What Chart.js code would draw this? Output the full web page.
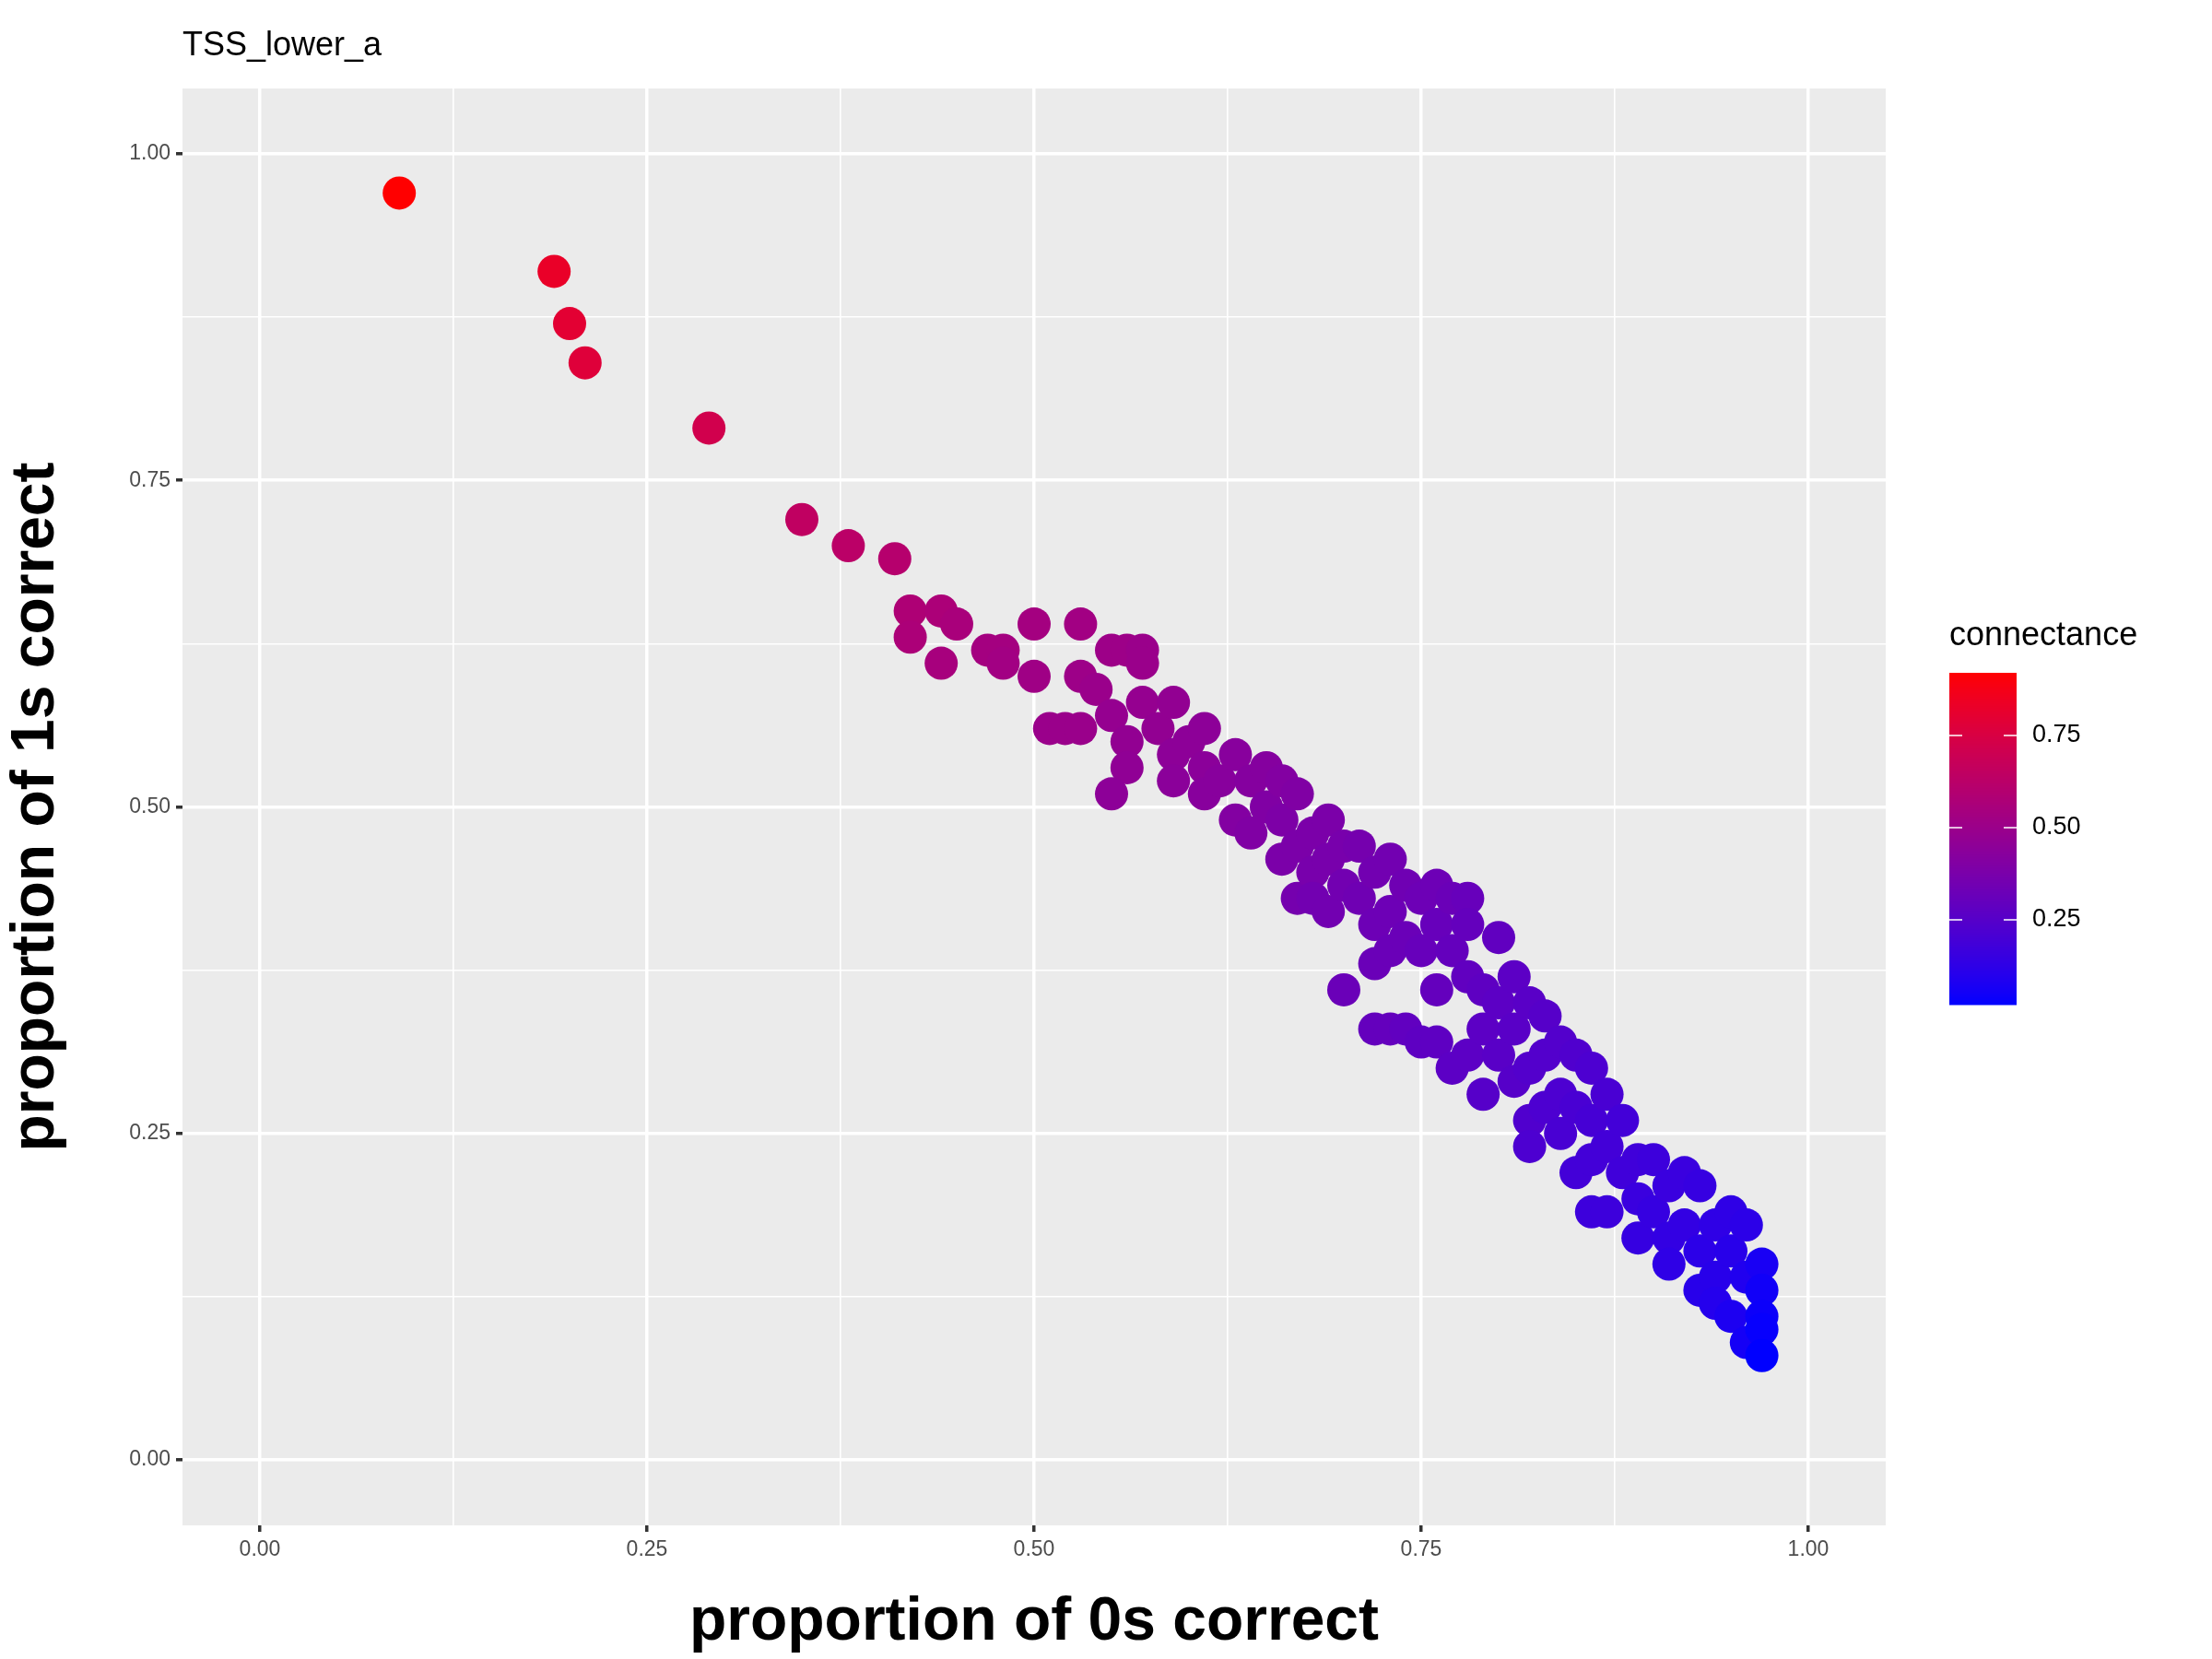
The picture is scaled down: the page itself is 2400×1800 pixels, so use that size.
<!DOCTYPE html>
<html>
<head>
<meta charset="utf-8">
<script src="https://cdn.jsdelivr.net/npm/chart.js@4.4.1/dist/chart.umd.min.js"></script>
<style>
  html, body { margin: 0; padding: 0; background: #fff; }
  #wrap { width: 2400px; height: 1800px; }
</style>
</head>
<body>
<div id="wrap"><canvas id="c" width="2400" height="1800"></canvas></div>
<script>
// proportion of 0s correct
var zerosCorrect = [0.09,0.19,0.20,0.21,0.29,0.35,0.38,0.41,0.42,0.42,0.44,0.45,0.44,0.47,0.48,0.48,0.50,0.50,0.51,0.52,0.53,0.53,0.53,0.54,0.55,0.56,0.57,0.57,0.55,0.56,0.56,0.55,0.57,0.58,0.59,0.59,0.59,0.60,0.61,0.61,0.61,0.62,0.63,0.63,0.64,0.64,0.65,0.65,0.66,0.66,0.66,0.67,0.67,0.67,0.68,0.68,0.68,0.69,0.69,0.69,0.70,0.70,0.70,0.71,0.71,0.72,0.72,0.72,0.72,0.73,0.73,0.73,0.73,0.74,0.74,0.74,0.75,0.75,0.75,0.76,0.76,0.76,0.76,0.77,0.77,0.77,0.78,0.78,0.78,0.78,0.79,0.79,0.79,0.80,0.80,0.80,0.81,0.81,0.81,0.82,0.82,0.82,0.82,0.83,0.83,0.83,0.84,0.84,0.84,0.85,0.85,0.85,0.86,0.86,0.86,0.86,0.87,0.87,0.87,0.88,0.88,0.89,0.89,0.89,0.90,0.90,0.91,0.91,0.91,0.92,0.92,0.93,0.93,0.93,0.94,0.94,0.94,0.95,0.95,0.95,0.96,0.96,0.96,0.97,0.97,0.97,0.97,0.97];
// proportion of 1s correct
var onesCorrect = [0.97,0.91,0.87,0.84,0.79,0.72,0.70,0.69,0.65,0.63,0.65,0.64,0.61,0.62,0.62,0.61,0.64,0.60,0.56,0.56,0.56,0.64,0.60,0.59,0.62,0.62,0.62,0.61,0.57,0.55,0.53,0.51,0.58,0.56,0.58,0.54,0.52,0.55,0.56,0.53,0.51,0.52,0.54,0.49,0.52,0.48,0.53,0.50,0.52,0.49,0.46,0.51,0.47,0.43,0.48,0.45,0.43,0.49,0.46,0.42,0.47,0.44,0.36,0.47,0.43,0.45,0.41,0.38,0.33,0.46,0.42,0.39,0.33,0.44,0.40,0.33,0.43,0.39,0.32,0.44,0.41,0.36,0.32,0.43,0.39,0.30,0.43,0.41,0.37,0.31,0.36,0.33,0.28,0.40,0.35,0.31,0.37,0.33,0.29,0.35,0.30,0.26,0.24,0.34,0.31,0.27,0.32,0.28,0.25,0.31,0.27,0.22,0.30,0.26,0.23,0.19,0.28,0.24,0.19,0.26,0.22,0.23,0.20,0.17,0.23,0.19,0.21,0.17,0.15,0.22,0.18,0.21,0.16,0.13,0.18,0.14,0.12,0.19,0.16,0.11,0.18,0.14,0.09,0.15,0.13,0.11,0.10,0.08];
// connectance (colour)
var connectance = [0.92,0.83,0.80,0.78,0.72,0.65,0.63,0.61,0.58,0.57,0.57,0.56,0.55,0.54,0.54,0.53,0.54,0.52,0.50,0.50,0.50,0.53,0.51,0.50,0.51,0.51,0.50,0.50,0.48,0.47,0.46,0.45,0.48,0.47,0.47,0.45,0.44,0.45,0.45,0.44,0.43,0.43,0.43,0.41,0.42,0.40,0.42,0.40,0.41,0.39,0.38,0.40,0.38,0.36,0.38,0.37,0.35,0.38,0.37,0.35,0.37,0.35,0.32,0.36,0.34,0.35,0.33,0.32,0.30,0.35,0.33,0.32,0.30,0.34,0.32,0.29,0.33,0.31,0.28,0.33,0.31,0.30,0.28,0.32,0.30,0.27,0.31,0.30,0.29,0.27,0.28,0.27,0.25,0.29,0.27,0.26,0.27,0.26,0.25,0.26,0.24,0.23,0.22,0.25,0.24,0.22,0.24,0.22,0.21,0.23,0.21,0.19,0.22,0.20,0.19,0.17,0.21,0.19,0.17,0.19,0.18,0.18,0.16,0.15,0.17,0.15,0.16,0.14,0.13,0.16,0.14,0.15,0.12,0.11,0.13,0.11,0.10,0.13,0.11,0.08,0.12,0.09,0.06,0.07,0.05,0.04,0.03,0.02];

var majorTicks = [0, 0.25, 0.5, 0.75, 1];
var legendTicks = [0.25, 0.5, 0.75];
var cMin = 0.02, cMax = 0.92;

function colourFor(v){
    var t = (v - cMin) / (cMax - cMin);
    t = Math.max(0, Math.min(1, t));
    var r = Math.round(255 * Math.pow(t, 0.8));
    var b = Math.round(255 * Math.pow(1 - t, 0.8));
    return 'rgb(' + r + ',0,' + b + ')';
}

var points = zerosCorrect.map(function(x, i){ return {x: x, y: onesCorrect[i]}; });
var colours = connectance.map(colourFor);

function isMajor(v){
    return majorTicks.some(function(m){ return Math.abs(m - v) < 1e-6; });
}

function axisTicks(axis){
    axis.ticks = [];
    for (var k = 0; k <= 8; k++) axis.ticks.push({value: k * 0.125});
}

var gridOpts = {
    color: function(ctx){ return '#ffffff'; },
    lineWidth: function(ctx){ return ctx.tick && isMajor(ctx.tick.value) ? 3.5 : 1.6; },
    tickColor: function(ctx){ return ctx.tick && isMajor(ctx.tick.value) ? '#333333' : 'rgba(0,0,0,0)'; },
    tickLength: 7,
    drawTicks: true
};

var tickFont = {family: 'Liberation Sans, Arial, sans-serif', size: 23};

var panelPlugin = {
    id: 'panel',
    beforeDraw: function(chart){
        var a = chart.chartArea, ctx = chart.ctx;
        ctx.save();
        ctx.fillStyle = '#ebebeb';
        ctx.fillRect(a.left, a.top, a.right - a.left, a.bottom - a.top);
        ctx.restore();
    },
    afterDraw: function(chart){
        var ctx = chart.ctx;
        ctx.save();
        // title
        ctx.fillStyle = '#000';
        ctx.font = '36px Liberation Sans, Arial, sans-serif';
        ctx.textBaseline = 'alphabetic';
        ctx.textAlign = 'left';
        ctx.fillText('TSS_lower_a', 198, 60);
        // colourbar legend
        var bx = 2115, bw = 73, top = 730, bot = 1090;
        ctx.fillText('connectance', bx, 700);
        for (var y = top; y < bot; y++) {
            var v = cMax - (y - top) / (bot - top) * (cMax - cMin);
            ctx.fillStyle = colourFor(v);
            ctx.fillRect(bx, y, bw, 1.5);
        }
        ctx.font = '27px Liberation Sans, Arial, sans-serif';
        ctx.textBaseline = 'middle';
        legendTicks.forEach(function(v){
            var y = top + (cMax - v) / (cMax - cMin) * (bot - top);
            ctx.strokeStyle = '#fff';
            ctx.lineWidth = 1.5;
            ctx.beginPath();
            ctx.moveTo(bx, y); ctx.lineTo(bx + 14, y);
            ctx.moveTo(bx + bw - 14, y); ctx.lineTo(bx + bw, y);
            ctx.stroke();
            ctx.fillStyle = '#000';
            ctx.fillText(v.toFixed(2), bx + bw + 17, y);
        });
        ctx.restore();
    }
};

new Chart(document.getElementById('c'), {
    type: 'scatter',
    data: {
        datasets: [{
            data: points,
            pointBackgroundColor: colours,
            pointBorderWidth: 0,
            pointRadius: 18,
            pointHoverRadius: 18
        }]
    },
    options: {
        responsive: false,
        animation: false,
        layout: {padding: {left: 0, right: 354, top: 96, bottom: 0}},
        plugins: {legend: {display: false}, tooltip: {enabled: false}},
        scales: {
            x: {
                type: 'linear', min: -0.05, max: 1.05,
                afterBuildTicks: axisTicks,
                afterFit: function(s){ s.height = 145; },
                border: {display: false},
                grid: gridOpts,
                ticks: {
                    autoSkip: false, maxRotation: 0, color: '#4d4d4d', font: tickFont, padding: 6,
                    callback: function(v){ return isMajor(v) ? v.toFixed(2) : ''; }
                },
                title: {
                    display: true, text: 'proportion of 0s correct', color: '#000',
                    font: {family: 'Liberation Sans, Arial, sans-serif', size: 66, weight: 'bold'},
                    padding: {top: 2, bottom: 0}
                }
            },
            y: {
                type: 'linear', min: -0.05, max: 1.05,
                afterBuildTicks: axisTicks,
                afterFit: function(s){ s.width = 198; },
                border: {display: false},
                grid: gridOpts,
                ticks: {
                    autoSkip: false, color: '#4d4d4d', font: tickFont, padding: 6,
                    callback: function(v){ return isMajor(v) ? v.toFixed(2) : ''; }
                },
                title: {
                    display: true, text: 'proportion of 1s correct', color: '#000',
                    font: {family: 'Liberation Sans, Arial, sans-serif', size: 66, weight: 'bold'},
                    padding: {top: 0, bottom: 10}
                }
            }
        }
    },
    plugins: [panelPlugin]
});
</script>
</body>
</html>
